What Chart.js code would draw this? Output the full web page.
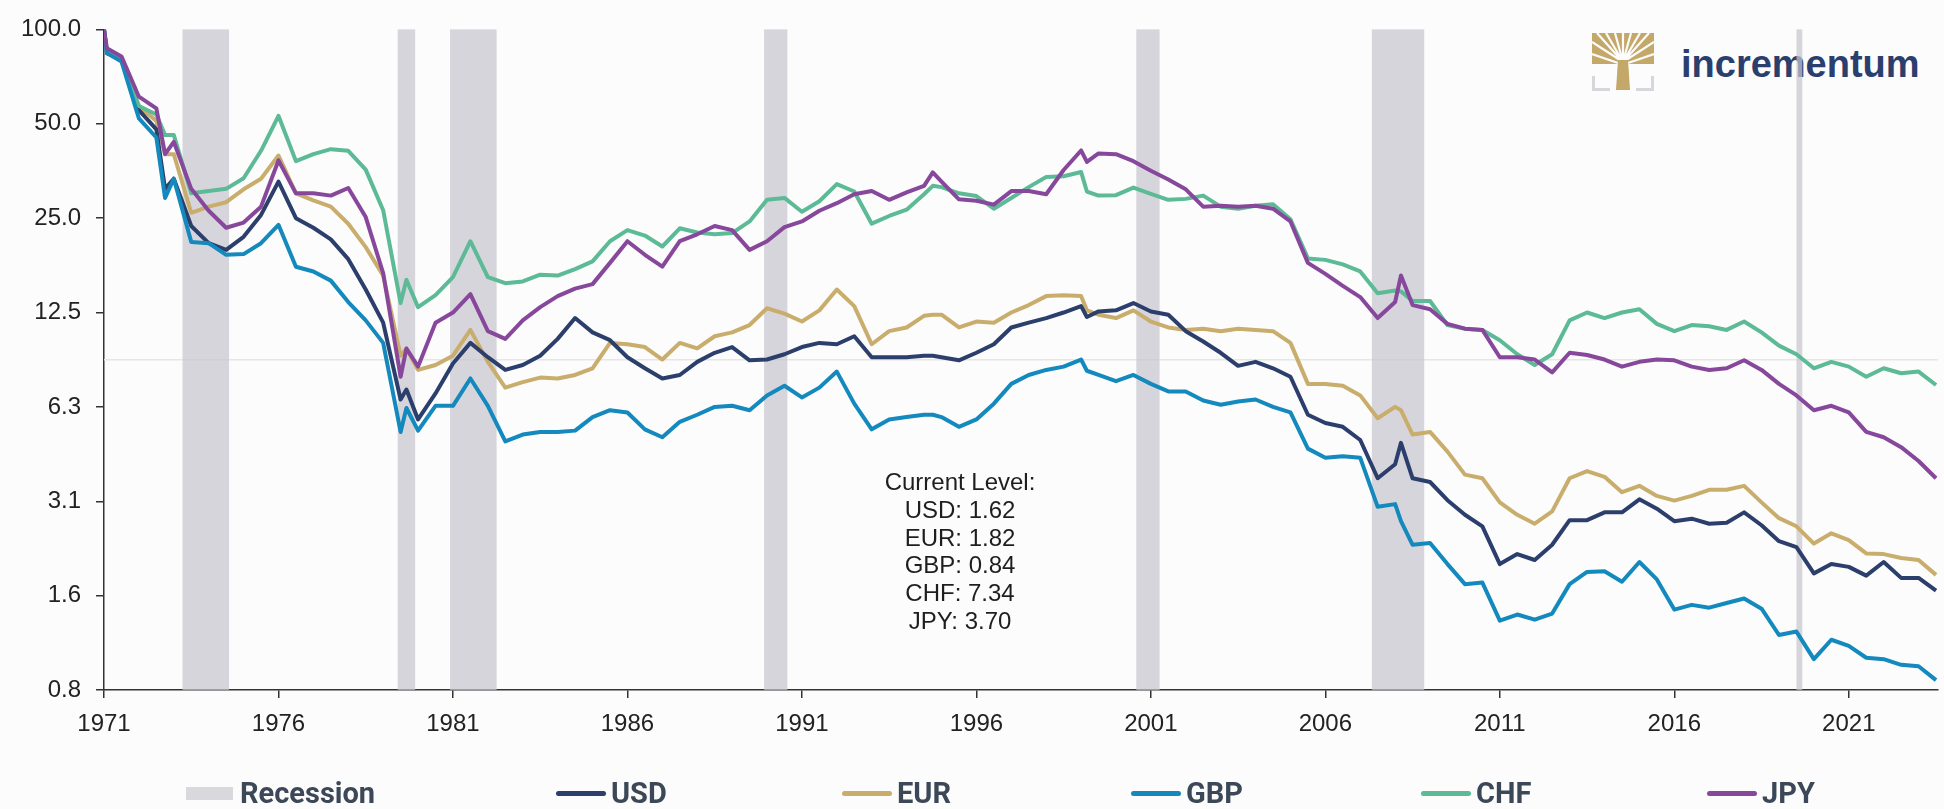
<!DOCTYPE html>
<html>
<head>
<meta charset="utf-8">
<script src="https://cdn.jsdelivr.net/npm/chart.js@4.4.1/dist/chart.umd.min.js"></script>
<style>
  html, body { margin: 0; padding: 0; background: #fcfcfc; }
  #wrap { position: relative; width: 1944px; height: 809px; overflow: hidden; }
  #logo { position: absolute; left: 1592px; top: 33px; }
  #brand { position: absolute; left: 1681px; top: 43px; line-height: 40px;
           font: bold 38px "Liberation Sans", Arial, sans-serif; color: #2b3f6e; }
  #chart { position: absolute; left: 0; top: 0; width: 1944px; height: 809px; }
  #note { position: absolute; left: 840px; width: 240px; top: 468px; text-align: center;
          font: 24px "Liberation Sans", Arial, sans-serif; line-height: 27.8px; color: #1e1e1e; }
  .lg { position: absolute; top: 776px; height: 34px; display: flex; align-items: center;
        font: 700 29px Roboto, sans-serif; line-height: 34px; color: #3c4858; white-space: nowrap; }
  .sw { display: inline-block; margin-right: 5px; }
</style>
</head>
<body>
<div id="wrap">
  <svg id="logo" width="62" height="58" viewBox="0 0 62 58">
    <rect x="0" y="0" width="62" height="31" fill="#c4a86a"/>
    <g stroke="#fcfcfc" stroke-width="2.2" fill="none">
      <path d="M31 29 L0 9 M31 29 L5 0 M31 29 L14 0 M31 29 L23 0 M31 29 L31 0 M31 29 L39 0 M31 29 L48 0 M31 29 L57 0 M31 29 L62 9 M29 31 L0 21 M33 31 L62 21"/>
    </g>
    <path d="M26 27 L36 27 L38 57 L24 57 Z" fill="#c4a86a"/>
    <path d="M1.5 43 V56.5 H18 M60.5 43 V56.5 H44" stroke="#d6d6dd" stroke-width="3" fill="none"/>
  </svg>
  <div id="brand">incrementum</div>
  <canvas id="chart" width="1944" height="809"></canvas>
  <div id="note"></div>
  <div id="legend"></div>
</div>
<script>
// observations (mostly half-yearly), index Aug 1971 = 100 (purchasing power in gold)
const months = [
  '1971-08','1971-09',
  '1972-02','1972-08','1973-02','1973-05','1973-08','1974-02','1974-08','1975-02','1975-08','1976-02','1976-08',
  '1977-02','1977-08','1978-02','1978-08','1979-02','1979-08','1980-02','1980-04','1980-08','1981-02','1981-08',
  '1982-02','1982-08','1983-02','1983-08','1984-02','1984-08','1985-02','1985-08','1986-02','1986-08',
  '1987-02','1987-08','1988-02','1988-08','1989-02','1989-08','1990-02','1990-08','1991-02','1991-08',
  '1992-02','1992-08','1993-02','1993-08','1994-02','1994-08','1995-02','1995-05','1995-08','1996-02','1996-08',
  '1997-02','1997-08','1998-02','1998-08','1999-02','1999-08','1999-10','2000-02','2000-08','2001-02','2001-08',
  '2002-02','2002-08','2003-02','2003-08','2004-02','2004-08','2005-02','2005-08','2006-02','2006-08',
  '2007-02','2007-08','2008-02','2008-08','2008-10','2009-02','2009-08','2010-02','2010-08','2011-02','2011-08',
  '2012-02','2012-08','2013-02','2013-08','2014-02','2014-08','2015-02','2015-08','2016-02','2016-08',
  '2017-02','2017-08','2018-02','2018-08','2019-02','2019-08','2020-02','2020-08','2021-02','2021-08',
  '2022-02','2022-08','2023-02','2023-08','2024-02'
];

const usd = [
  100, 84,
  80, 55.3, 48, 31, 33.4, 23.6, 20.8, 19.8, 21.8, 25.6, 32.7,
  25, 23.3, 21.4, 18.5, 14.8, 11.6, 6.6, 7.1, 5.7, 6.9, 8.6,
  10.0, 9.0, 8.2, 8.5, 9.1, 10.3, 12.0, 10.8, 10.2, 9.0,
  8.3, 7.7, 7.9, 8.7, 9.3, 9.7, 8.8, 8.85, 9.2, 9.7,
  10.0, 9.9, 10.5, 9.0, 9.0, 9.0, 9.1, 9.1, 9.0, 8.8, 9.3,
  9.9, 11.2, 11.6, 12.0, 12.5, 13.1, 12.1, 12.6, 12.7, 13.4, 12.6,
  12.3, 10.9, 10.1, 9.3, 8.45, 8.7, 8.3, 7.8, 5.9, 5.55,
  5.4, 4.9, 3.7, 4.1, 4.8, 3.7, 3.6, 3.15, 2.83, 2.6, 1.97,
  2.12, 2.03, 2.27, 2.72, 2.72, 2.88, 2.88, 3.17, 2.96, 2.7,
  2.75, 2.65, 2.67, 2.88, 2.62, 2.33, 2.23, 1.84, 1.97, 1.93,
  1.81, 2.0, 1.78, 1.78, 1.62
];
const eur = [
  100, 84,
  80, 57, 51, 40, 40, 26, 27.2, 28.1, 30.9, 33.4, 39.6,
  30, 28.5, 27.2, 24, 20.2, 16.4, 9.1, 9.6, 8.2, 8.5, 9.1,
  11.0, 8.7, 7.2, 7.5, 7.75, 7.7, 7.9, 8.3, 10.0, 9.9,
  9.7, 8.85, 10.0, 9.6, 10.5, 10.8, 11.4, 12.9, 12.4, 11.7,
  12.7, 14.8, 13.1, 9.9, 10.9, 11.2, 12.2, 12.3, 12.3, 11.2, 11.7,
  11.6, 12.5, 13.2, 14.1, 14.2, 14.1, 12.7, 12.3, 12.0, 12.7, 11.7,
  11.2, 11.0, 11.1, 10.9, 11.1, 11.0, 10.9, 10.0, 7.4, 7.4,
  7.3, 6.8, 5.75, 6.25, 6.1, 5.1, 5.2, 4.5, 3.8, 3.7, 3.1,
  2.83, 2.65, 2.9, 3.7, 3.9, 3.74, 3.34, 3.5, 3.25, 3.14,
  3.25, 3.4, 3.4, 3.5, 3.1, 2.76, 2.6, 2.29, 2.47, 2.35,
  2.13, 2.12, 2.06, 2.03, 1.82
];
const gbp = [
  100, 84,
  79, 52, 45.2, 29, 33.4, 21, 20.8, 19.1, 19.2, 20.8, 23.8,
  17.5, 16.9, 15.8, 13.5, 11.8, 10.0, 5.2, 6.2, 5.25, 6.3, 6.3,
  7.7, 6.3, 4.85, 5.1, 5.2, 5.2, 5.25, 5.8, 6.1, 6.0,
  5.3, 5.0, 5.6, 5.9, 6.25, 6.3, 6.1, 6.8, 7.3, 6.7,
  7.2, 8.1, 6.4, 5.3, 5.7, 5.8, 5.9, 5.9, 5.8, 5.4, 5.7,
  6.4, 7.4, 7.9, 8.2, 8.4, 8.85, 8.15, 7.9, 7.55, 7.9, 7.4,
  7.0, 7.0, 6.55, 6.35, 6.5, 6.6, 6.25, 6.0, 4.6, 4.3,
  4.35, 4.3, 3.0, 3.06, 2.7, 2.27, 2.3, 1.97, 1.7, 1.72, 1.30,
  1.36, 1.31, 1.37, 1.7, 1.86, 1.87, 1.73, 2.0, 1.76, 1.41,
  1.46, 1.43, 1.48, 1.53, 1.42, 1.17, 1.2, 0.98, 1.13, 1.08,
  0.99, 0.98, 0.94, 0.93, 0.84
];
const chf = [
  100, 85,
  80, 57, 53.5, 46, 46, 30, 30.5, 31, 33.5, 41, 53,
  38, 40, 41.5, 41, 35.7, 26.5, 13.4, 15.9, 13.0, 14.2, 16.2,
  21.1, 16.2, 15.5, 15.7, 16.5, 16.4, 17.2, 18.2, 21.1, 22.9,
  22.0, 20.3, 23.2, 22.5, 22.2, 22.4, 24.4, 28.6, 29.0, 26.2,
  28.3, 32.1, 30.4, 24, 25.4, 26.6, 29.8, 31.7, 31.4, 30.0, 29.4,
  26.8, 29.0, 31.4, 33.8, 34.0, 35.1, 30.4, 29.5, 29.6, 31.3, 29.9,
  28.6, 28.8, 29.5, 27.2, 26.8, 27.4, 27.7, 24.8, 18.6, 18.4,
  17.8, 16.9, 14.4, 14.7, 14.6, 13.6, 13.6, 11.4, 11.1, 11.0, 10.2,
  9.2, 8.5, 9.2, 11.8, 12.5, 12.0, 12.5, 12.8, 11.5, 10.9,
  11.4, 11.3, 11.0, 11.7, 10.8, 9.8, 9.2, 8.3, 8.7, 8.4,
  7.8, 8.3, 8.0, 8.1, 7.34
];
const jpy = [
  100, 87,
  82, 61, 56, 40, 43.8, 31, 26.4, 23.3, 24.2, 27.2, 38.2,
  30, 30, 29.5, 31.2, 25.2, 16.7, 7.8, 9.6, 8.4, 11.6, 12.5,
  14.3, 10.9, 10.3, 11.8, 13.0, 14.1, 14.9, 15.4, 18.0, 21.1,
  19.1, 17.5, 21.1, 22.2, 23.6, 22.9, 19.8, 21.1, 23.4, 24.4,
  26.4, 27.9, 29.8, 30.5, 28.6, 30.2, 31.7, 35.0, 32.7, 28.7, 28.4,
  27.6, 30.5, 30.5, 29.8, 35.6, 41.1, 37.8, 40.2, 40, 38.0, 35.4,
  33.2, 30.9, 27.2, 27.4, 27.2, 27.4, 26.8, 24.4, 18.0, 16.6,
  15.2, 14.0, 12.0, 13.5, 16.4, 13.2, 12.8, 11.5, 11.1, 11.0, 9.0,
  9.0, 8.85, 8.05, 9.3, 9.15, 8.85, 8.4, 8.7, 8.85, 8.8,
  8.4, 8.2, 8.3, 8.8, 8.2, 7.4, 6.8, 6.1, 6.3, 6.0,
  5.2, 5.0, 4.65, 4.2, 3.70
];

// US recessions (start, end)
const recessionStart = ['1973-11', '1980-01', '1981-07', '1990-07', '2001-03', '2007-12', '2020-02'];
const recessionEnd   = ['1975-03', '1980-07', '1982-11', '1991-03', '2001-11', '2009-06', '2020-04'];

const xTickMonths = ['1971-08','1976-08','1981-08','1986-08','1991-08','1996-08','2001-08','2006-08','2011-08','2016-08','2021-08'];
const xTickLabels = ['1971','1976','1981','1986','1991','1996','2001','2006','2011','2016','2021'];
const yTickValues = [0.78125, 1.5625, 3.125, 6.25, 12.5, 25, 50, 100];
const yTickLabels = ['0.8', '1.6', '3.1', '6.3', '12.5', '25.0', '50.0', '100.0'];
const guideLevel = 8.84;

function toYear(m) {
  const [y, mo] = m.split('-').map(Number);
  return y + (mo - 1) / 12;
}
const xs = months.map(toYear);

const series = [
  { label: 'USD', values: usd, color: '#2c3f6c', order: 3 },
  { label: 'EUR', values: eur, color: '#c9ad6c', order: 4 },
  { label: 'GBP', values: gbp, color: '#1489bd', order: 1 },
  { label: 'CHF', values: chf, color: '#5cba96', order: 2 },
  { label: 'JPY', values: jpy, color: '#87489b', order: 0 }
];

const backdrop = {
  id: 'backdrop',
  beforeDatasetsDraw(chart) {
    const { ctx, chartArea: a, scales: { x, y } } = chart;
    ctx.save();
    const gy = y.getPixelForValue(guideLevel);
    ctx.strokeStyle = '#e6e6e6';
    ctx.lineWidth = 1.5;
    ctx.beginPath();
    ctx.moveTo(a.left, gy);
    ctx.lineTo(a.right, gy);
    ctx.stroke();
    ctx.fillStyle = 'rgba(200,198,206,0.72)';
    recessionStart.forEach((s, i) => {
      const x0 = x.getPixelForValue(toYear(s));
      const x1 = x.getPixelForValue(toYear(recessionEnd[i]));
      ctx.fillRect(x0, a.top, x1 - x0, a.bottom - a.top);
    });
    ctx.restore();
  }
};

const tickFont = { family: '"Liberation Sans", Arial, sans-serif', size: 24 };

new Chart(document.getElementById('chart').getContext('2d'), {
  type: 'line',
  data: {
    datasets: series.map(s => ({
      label: s.label,
      data: xs.map((x, i) => ({ x: x, y: s.values[i] })),
      borderColor: s.color,
      backgroundColor: s.color,
      borderWidth: 4,
      borderJoinStyle: 'round',
      pointRadius: 0,
      tension: 0,
      order: s.order
    }))
  },
  options: {
    responsive: false,
    animation: false,
    devicePixelRatio: 1,
    layout: { padding: { left: 0, right: 6, top: 24, bottom: 0 } },
    plugins: { legend: { display: false }, tooltip: { enabled: false } },
    scales: {
      x: {
        type: 'linear',
        min: toYear('1971-08'),
        max: 2024.14,
        afterBuildTicks: s => { s.ticks = xTickMonths.map(m => ({ value: toYear(m) })); },
        afterFit: s => { s.height = 119; },
        ticks: {
          callback: (v, i) => xTickLabels[i],
          font: tickFont, color: '#222', padding: 12, autoSkip: false, maxRotation: 0
        },
        grid: { drawOnChartArea: false, tickLength: 8, color: '#333', lineWidth: 1.5 },
        border: { color: '#333', width: 1.5 }
      },
      y: {
        type: 'logarithmic',
        min: yTickValues[0],
        max: yTickValues[yTickValues.length - 1],
        afterBuildTicks: s => { s.ticks = yTickValues.map(v => ({ value: v })); },
        afterFit: s => { s.width = 104; },
        ticks: {
          callback: (v, i) => yTickLabels[i],
          font: tickFont, color: '#222', padding: 15, autoSkip: false
        },
        grid: { drawOnChartArea: false, tickLength: 8, color: '#333', lineWidth: 1.5 },
        border: { color: '#333', width: 1.5 }
      }
    }
  },
  plugins: [backdrop]
});

// "Current Level" note from the last observation of each series
document.getElementById('note').innerHTML = ['Current Level:']
  .concat(series.map(s => s.label + ': ' + s.values[s.values.length - 1].toFixed(2)))
  .join('<br>');

// legend
const legendLeft = [186, 556, 842, 1131, 1421, 1707];
const legendItems = [{ label: 'Recession', color: '#d9d8dd', box: true }].concat(series);
document.getElementById('legend').innerHTML = legendItems.map((it, i) => {
  const sw = it.box
    ? '<span class="sw" style="width:47px;height:13px;background:' + it.color + ';margin-right:7px"></span>'
    : '<span class="sw" style="width:50px;height:5px;border-radius:3px;background:' + it.color + '"></span>';
  return '<div class="lg" style="left:' + legendLeft[i] + 'px">' + sw + it.label + '</div>';
}).join('');
</script>
</body>
</html>
